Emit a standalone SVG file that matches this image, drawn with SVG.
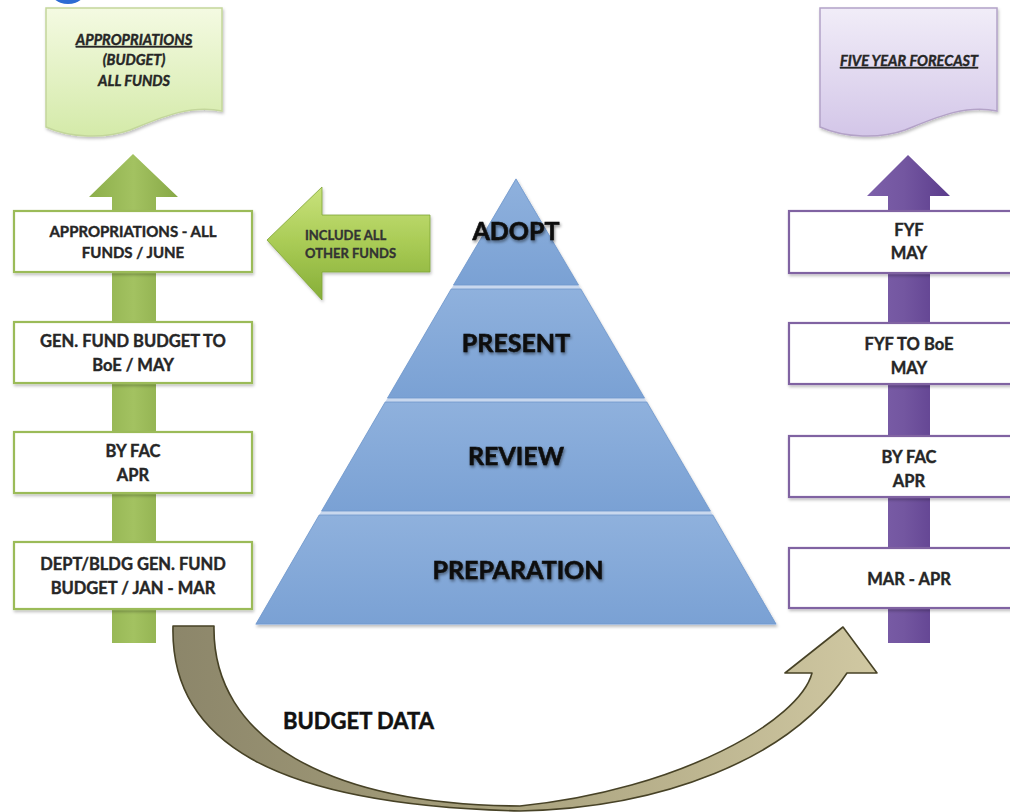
<svg xmlns="http://www.w3.org/2000/svg" width="1010" height="812" viewBox="0 0 1010 812">
<defs>
  <style>
    text { font-family: Lato, "Liberation Sans", sans-serif; font-weight: bold; }
    .box-g { fill: #ffffff; stroke: #9bbb59; stroke-width: 2.2; filter: url(#shadow); }
    .box-p { fill: #ffffff; stroke: #8064a2; stroke-width: 2.2; filter: url(#shadow); }
    .bt { font-size: 16.5px; fill: #262626; stroke: #262626; stroke-width: 0.4; text-anchor: middle; }
    .bt.small { font-size: 15px; }
    .doc { font-size: 14.5px; font-style: italic; fill: #262626; stroke: #262626; stroke-width: 0.4; text-anchor: middle; }
    .pt { font-size: 25px; fill: #0d0d0d; stroke: #0d0d0d; stroke-width: 0.6; text-anchor: middle; filter: url(#tshadow); }
    .layer { fill: url(#blue); stroke: #6f97cc; stroke-width: 0.8; }
  </style>
  <filter id="shadow" x="-10%" y="-20%" width="120%" height="150%">
    <feDropShadow dx="1" dy="2" stdDeviation="1.5" flood-color="#000" flood-opacity="0.25"/>
  </filter>
  <filter id="tshadow" x="-10%" y="-30%" width="120%" height="160%">
    <feDropShadow dx="1" dy="2" stdDeviation="1.5" flood-color="#000" flood-opacity="0.45"/>
  </filter>
  <linearGradient id="blue" x1="0" y1="0" x2="0" y2="1">
    <stop offset="0" stop-color="#8fb1dd"/>
    <stop offset="1" stop-color="#7aa1d4"/>
  </linearGradient>
  <linearGradient id="greenShaft" x1="0" y1="0" x2="1" y2="0">
    <stop offset="0" stop-color="#8cae4a"/>
    <stop offset="0.5" stop-color="#a3c261"/>
    <stop offset="1" stop-color="#87a846"/>
  </linearGradient>
  <linearGradient id="purpleShaft" x1="0" y1="0" x2="1" y2="0">
    <stop offset="0" stop-color="#7d60aa"/>
    <stop offset="0.45" stop-color="#7356a0"/>
    <stop offset="1" stop-color="#5b3c8c"/>
  </linearGradient>
  <linearGradient id="incGreen" x1="0" y1="0" x2="0" y2="1">
    <stop offset="0" stop-color="#c9e27c"/>
    <stop offset="0.5" stop-color="#a9cb55"/>
    <stop offset="1" stop-color="#86ae38"/>
  </linearGradient>
  <linearGradient id="tan" x1="0" y1="0" x2="1" y2="0">
    <stop offset="0" stop-color="#8c866a"/>
    <stop offset="0.45" stop-color="#a7a07c"/>
    <stop offset="1" stop-color="#d0c8a2"/>
  </linearGradient>
  <linearGradient id="docGreen" x1="0" y1="0" x2="0" y2="1">
    <stop offset="0" stop-color="#f4fae2"/>
    <stop offset="1" stop-color="#d4eaa9"/>
  </linearGradient>
  <linearGradient id="docPurple" x1="0" y1="0" x2="0" y2="1">
    <stop offset="0" stop-color="#f1edf8"/>
    <stop offset="1" stop-color="#d3c6e8"/>
  </linearGradient>
</defs>

<rect width="1010" height="812" fill="#ffffff"/>
<ellipse cx="68" cy="-14" rx="20" ry="18" fill="#2c6bd3"/>

<g id="connectors">
  <polygon id="green-arrow" points="133,154 178,197 156,197 156,643 112,643 112,197 89,197" fill="url(#greenShaft)"/>
  <polygon id="purple-arrow" points="908,155 950,196 930,196 930,643 888,643 888,196 867,196" fill="url(#purpleShaft)"/>
  <g id="include-arrow">
    <polygon points="267,240 322,187 322,215 430,215 430,272 322,272 322,300" fill="url(#incGreen)" stroke="#7fa535" stroke-width="0.8" filter="url(#shadow)"/>
    <text x="305" y="240" font-size="13" fill="#333333" stroke="#333333" stroke-width="0.35">INCLUDE ALL</text>
    <text x="305" y="258" font-size="13" fill="#333333" stroke="#333333" stroke-width="0.35">OTHER FUNDS</text>
  </g>
  <g id="budget-data">
    <path d="M173,626 C170,740 270,805 520,811 C660,808 790,760 847,673 L877,673 L843,627 L785,673 L812,673 C800,720 680,790 520,806 C330,805 212,740 214,626 Z" fill="url(#tan)" stroke="#474226" stroke-width="1.6" stroke-linejoin="round"/>
    <text x="283" y="729" font-size="22" fill="#111111" stroke="#111111" stroke-width="0.5">BUDGET DATA</text>
  </g>
</g>

<g id="doc-appropriations">
  <path d="M46,8 H222 V111 C190,104 160,118 130,130 C105,139 70,138 46,127 Z" fill="url(#docGreen)" stroke="#c3d69b" stroke-width="1.5" filter="url(#shadow)"/>
  <text class="doc" x="134" y="45" text-decoration="underline">APPROPRIATIONS</text>
  <text class="doc" x="134" y="65">(BUDGET)</text>
  <text class="doc" x="134" y="86">ALL FUNDS</text>
</g>

<g id="doc-forecast">
  <path d="M820,8 H997 V111 C965,104 935,118 905,130 C880,139 845,138 820,127 Z" fill="url(#docPurple)" stroke="#b3a2c7" stroke-width="1.5" filter="url(#shadow)"/>
  <text class="doc" x="909" y="66" text-decoration="underline">FIVE YEAR FORECAST</text>
</g>

<g id="left-1">
  <rect class="box-g" x="14" y="211" width="238" height="61"/>
  <text class="bt small" x="133" y="237">APPROPRIATIONS - ALL</text>
  <text class="bt small" x="133" y="258">FUNDS / JUNE</text>
</g>
<g id="left-2">
  <rect class="box-g" x="14" y="322" width="238" height="61"/>
  <text class="bt" x="133" y="347">GEN. FUND BUDGET TO</text>
  <text class="bt" x="133" y="371">BoE / MAY</text>
</g>
<g id="left-3">
  <rect class="box-g" x="14" y="432" width="238" height="61"/>
  <text class="bt" x="133" y="457">BY FAC</text>
  <text class="bt" x="133" y="481">APR</text>
</g>
<g id="left-4">
  <rect class="box-g" x="14" y="542" width="238" height="67"/>
  <text class="bt" x="133" y="570">DEPT/BLDG GEN. FUND</text>
  <text class="bt" x="133" y="594">BUDGET / JAN - MAR</text>
</g>

<g id="right-1">
  <rect class="box-p" x="789" y="211" width="240" height="62"/>
  <text class="bt" x="909" y="236">FYF</text>
  <text class="bt" x="909" y="259">MAY</text>
</g>
<g id="right-2">
  <rect class="box-p" x="789" y="323" width="240" height="61"/>
  <text class="bt" x="909" y="350">FYF TO BoE</text>
  <text class="bt" x="909" y="374">MAY</text>
</g>
<g id="right-3">
  <rect class="box-p" x="789" y="436" width="240" height="61"/>
  <text class="bt" x="909" y="463">BY FAC</text>
  <text class="bt" x="909" y="487">APR</text>
</g>
<g id="right-4">
  <rect class="box-p" x="789" y="548" width="240" height="60"/>
  <text class="bt" x="909" y="585">MAR - APR</text>
</g>

<g id="pyramid">
  <polygon points="516,178 777,625 255,625" fill="#c9d8ee" filter="url(#shadow)"/>
  <g id="adopt">
    <polygon class="layer" points="516,179 578.5,285 453.5,285"/>
    <text class="pt" x="516" y="240">ADOPT</text>
  </g>
  <g id="present">
    <polygon class="layer" points="451.2,289 580.8,289 644.5,398 387.5,398"/>
    <text class="pt" x="516" y="352">PRESENT</text>
  </g>
  <g id="review">
    <polygon class="layer" points="385.2,402 646.8,402 710.4,511 321.6,511"/>
    <text class="pt" x="516" y="465">REVIEW</text>
  </g>
  <g id="preparation">
    <polygon class="layer" points="319.2,515 712.8,515 776,624 256,624"/>
    <text class="pt" x="518" y="579">PREPARATION</text>
  </g>
</g>
</svg>
